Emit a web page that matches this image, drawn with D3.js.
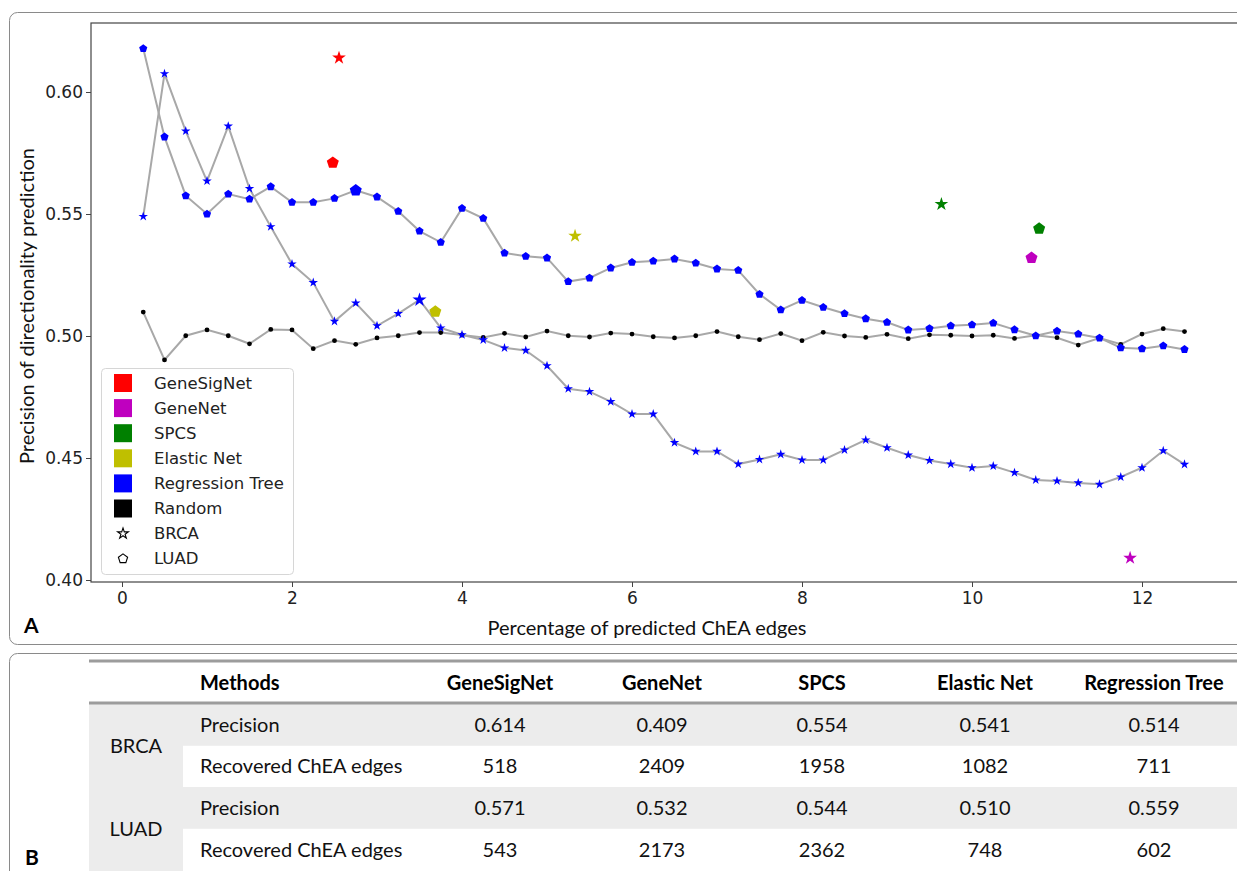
<!DOCTYPE html>
<html>
<head>
<meta charset="utf-8">
<script src="https://cdn.jsdelivr.net/npm/d3@7"></script>
<style>
  body { margin: 0; background: #fff; }
  svg { display: block; }
</style>
</head>
<body>
<div id="chart"></div>
<script>
// x positions (percentage of predicted ChEA edges)
const pct = [0.25, 0.5, 0.75, 1, 1.25, 1.5, 1.75, 2, 2.25, 2.5,
  2.75, 3, 3.25, 3.5, 3.75, 4, 4.25, 4.5, 4.75, 5,
  5.25, 5.5, 5.75, 6, 6.25, 6.5, 6.75, 7, 7.25, 7.5,
  7.75, 8, 8.25, 8.5, 8.75, 9, 9.25, 9.5, 9.75, 10,
  10.25, 10.5, 10.75, 11, 11.25, 11.5, 11.75, 12, 12.25, 12.5];

const treeBRCA = [0.549, 0.6075, 0.584, 0.5635, 0.586, 0.5604, 0.5448, 0.5295, 0.5219, 0.506,
  0.5135, 0.5042, 0.5092, 0.5148, 0.5033, 0.5005, 0.4984, 0.4951, 0.4941, 0.4878,
  0.4784, 0.4772, 0.4731, 0.468, 0.468, 0.4563, 0.4527, 0.4527, 0.4475, 0.4494,
  0.4515, 0.4492, 0.4492, 0.4533, 0.4574, 0.4542, 0.4512, 0.449, 0.4475, 0.446,
  0.4467, 0.444, 0.441, 0.4406, 0.4398, 0.4392, 0.4422, 0.446, 0.453, 0.4474];

const treeLUAD = [0.6178, 0.5816, 0.5575, 0.55, 0.5582, 0.5561, 0.5612, 0.5548, 0.5548, 0.5564,
  0.5597, 0.557, 0.5511, 0.543, 0.5384, 0.5523, 0.5482, 0.534, 0.5327, 0.532,
  0.5223, 0.5238, 0.5279, 0.5302, 0.5307, 0.5316, 0.5299, 0.5275, 0.5269, 0.5171,
  0.5107, 0.5146, 0.5118, 0.5092, 0.5071, 0.5056, 0.5025, 0.5031, 0.5042, 0.5046,
  0.5053, 0.5026, 0.5001, 0.502, 0.5008, 0.4992, 0.4952, 0.4948, 0.496, 0.4945];

const randomPrec = [0.5098, 0.4902, 0.5001, 0.5025, 0.5001, 0.4968, 0.5027, 0.5025, 0.4948, 0.4981,
  0.4966, 0.4992, 0.5001, 0.5014, 0.5014, 0.5004, 0.4994, 0.5011, 0.4996, 0.502,
  0.5001, 0.4996, 0.5012, 0.5008, 0.4997, 0.4992, 0.5001, 0.5018, 0.4997, 0.4985,
  0.501, 0.4981, 0.5015, 0.5, 0.4994, 0.5007, 0.4989, 0.5005, 0.5003, 0.5,
  0.5003, 0.499, 0.5003, 0.4993, 0.4963, 0.4992, 0.4966, 0.5008, 0.503, 0.5018];

// chosen regression tree cut-offs (BRCA, LUAD)
const treePickBRCA = 3.5;
const treePickLUAD = 2.75;

// other methods
const others = ["GeneSigNet", "GeneNet", "SPCS", "Elastic Net"];
const otherColors = ["#ff0000", "#bf00bf", "#008000", "#bfbf00"];
const brcaX = [2.553, 11.86, 9.64, 5.33];
const brcaY = [0.614, 0.409, 0.554, 0.541];
const luadX = [2.48, 10.70, 10.79, 3.686];
const luadY = [0.571, 0.532, 0.544, 0.510];

const legendLabels = ["GeneSigNet", "GeneNet", "SPCS", "Elastic Net", "Regression Tree", "Random"];
const legendColors = ["#ff0000", "#bf00bf", "#008000", "#bfbf00", "#0000ff", "#000000"];

const yTicks = [0.40, 0.45, 0.50, 0.55, 0.60];
const xTicks = [0, 2, 4, 6, 8, 10, 12];

// table
const tableHeader = ["GeneSigNet", "GeneNet", "SPCS", "Elastic Net", "Regression Tree"];
const brcaPrecision = ["0.614", "0.409", "0.554", "0.541", "0.514"];
const brcaEdges = ["518", "2409", "1958", "1082", "711"];
const luadPrecision = ["0.571", "0.532", "0.544", "0.510", "0.559"];
const luadEdges = ["543", "2173", "2362", "748", "602"];

const width = 1237, height = 871;
const svg = d3.select("#chart").append("svg")
  .attr("width", width).attr("height", height);

// panel frames
svg.append("rect").attr("x", 9.5).attr("y", 12.5).attr("width", 1260).attr("height", 632)
  .attr("rx", 8).attr("fill", "none").attr("stroke", "#8a8a8a");
svg.append("rect").attr("x", 9.5).attr("y", 653.5).attr("width", 1260).attr("height", 260)
  .attr("rx", 8).attr("fill", "none").attr("stroke", "#8a8a8a");

const x = d3.scaleLinear().domain([0, 12]).range([122, 1142]);
const y = d3.scaleLinear().domain([0.4, 0.6]).range([580, 92]);

const tickFont = "'DejaVu Sans', sans-serif";
const labFont = "Lato, 'Open Sans', sans-serif";

// plot frame
svg.append("rect").attr("x", 91).attr("y", 23).attr("width", 1200).attr("height", 559)
  .attr("fill", "none").attr("stroke", "#444").attr("stroke-width", 1.2);

const yAxis = svg.append("g").attr("transform", "translate(91,0)")
  .call(d3.axisLeft(y).tickValues(yTicks).tickFormat(d3.format(".2f")).tickSize(5));
const xAxis = svg.append("g").attr("transform", "translate(0,582)")
  .call(d3.axisBottom(x).tickValues(xTicks).tickFormat(d3.format("d")).tickSize(5));
[yAxis, xAxis].forEach(a => {
  a.select(".domain").remove();
  a.selectAll("line").attr("stroke", "#444");
  a.selectAll("text").attr("font-family", tickFont).attr("font-size", 17).attr("fill", "#222");
});
yAxis.selectAll("text").attr("x", -8);
xAxis.selectAll("text").attr("y", 10);

// axis titles
svg.append("text")
  .attr("transform", "rotate(-90)")
  .attr("x", -306).attr("y", 34)
  .attr("text-anchor", "middle")
  .attr("font-family", labFont).attr("font-size", 20).attr("fill", "#111")
  .text("Precision of directionality prediction");
svg.append("text")
  .attr("x", 647).attr("y", 635)
  .attr("text-anchor", "middle")
  .attr("font-family", labFont).attr("font-size", 20).attr("fill", "#111")
  .text("Percentage of predicted ChEA edges");
svg.append("text").attr("x", 24).attr("y", 633)
  .attr("font-family", labFont).attr("font-weight", "bold").attr("font-size", 21)
  .text("A");

// pentagon symbol (point up)
const pentagon = {
  draw(ctx, size) {
    const r = Math.sqrt(size / 2.378);
    for (let i = 0; i < 5; i++) {
      const a = -Math.PI / 2 + i * 2 * Math.PI / 5;
      const px = r * Math.cos(a), py = r * Math.sin(a);
      if (i === 0) ctx.moveTo(px, py); else ctx.lineTo(px, py);
    }
    ctx.closePath();
  }
};
const starSym = d3.symbol().type(d3.symbolStar);
const pentSym = d3.symbol().type(pentagon);

const line = d3.line().x(d => x(d[0])).y(d => y(d[1]));
const lineColor = "#a8a8a8";

const series = [
  { vals: randomPrec, kind: "dot" },
  { vals: treeLUAD, kind: "pent" },
  { vals: treeBRCA, kind: "star" }
];

series.forEach(s => {
  const pts = pct.map((p, i) => [p, s.vals[i]]);
  svg.append("path").datum(pts)
    .attr("fill", "none").attr("stroke", lineColor).attr("stroke-width", 2)
    .attr("d", line);
});

series.forEach(s => {
  const pts = pct.map((p, i) => [p, s.vals[i]]);
  const g = svg.append("g");
  if (s.kind === "dot") {
    g.selectAll("circle").data(pts).join("circle")
      .attr("cx", d => x(d[0])).attr("cy", d => y(d[1])).attr("r", 2.4)
      .attr("fill", "#000");
  } else {
    const big = s.kind === "star" ? treePickBRCA : treePickLUAD;
    g.selectAll("path").data(pts).join("path")
      .attr("transform", d => `translate(${x(d[0])},${y(d[1])})`)
      .attr("d", d => s.kind === "star"
        ? starSym.size(d[0] === big ? 62 : 28)()
        : pentSym.size(d[0] === big ? 95 : 44)())
      .attr("fill", "#0000ff");
  }
});

// other methods' single points
others.forEach((m, i) => {
  svg.append("path")
    .attr("transform", `translate(${x(brcaX[i])},${y(brcaY[i])})`)
    .attr("d", starSym.size(58)())
    .attr("fill", otherColors[i]);
  svg.append("path")
    .attr("transform", `translate(${x(luadX[i])},${y(luadY[i])})`)
    .attr("d", pentSym.size(95)())
    .attr("fill", otherColors[i]);
});

// legend
const lg = svg.append("g");
lg.append("rect").attr("x", 101.5).attr("y", 368.5).attr("width", 192).attr("height", 206)
  .attr("rx", 4).attr("fill", "#fff").attr("fill-opacity", 0.85)
  .attr("stroke", "#d6d6d6");
legendLabels.forEach((lab, i) => {
  const cy = 383 + i * 25.1;
  lg.append("rect").attr("x", 114).attr("y", cy - 9).attr("width", 18).attr("height", 18)
    .attr("fill", legendColors[i]);
  lg.append("text").attr("x", 154).attr("y", cy).attr("dy", "0.35em")
    .attr("font-family", tickFont).attr("font-size", 16.5).attr("fill", "#222").text(lab);
});
[["BRCA", starSym.size(36)()], ["LUAD", pentSym.size(56)()]].forEach((e, j) => {
  const cy = 383 + (6 + j) * 25.1;
  lg.append("path").attr("transform", `translate(123,${cy})`).attr("d", e[1])
    .attr("fill", "#fff").attr("stroke", "#000").attr("stroke-width", 1.1);
  lg.append("text").attr("x", 154).attr("y", cy).attr("dy", "0.35em")
    .attr("font-family", tickFont).attr("font-size", 16.5).attr("fill", "#222").text(e[0]);
});

// ---- table B ----
const tLeft = 89, tRight = 1237;
const colX = [500, 662, 822, 985, 1154];
const rowTop = [704, 745.5, 787, 829];
const rowH = 41.75;
const tb = svg.append("g");

[0, 2].forEach(r => {
  tb.append("rect").attr("x", tLeft).attr("y", rowTop[r]).attr("width", tRight - tLeft)
    .attr("height", rowH).attr("fill", "#ececec");
});
tb.append("rect").attr("x", tLeft).attr("y", rowTop[0]).attr("width", 94)
  .attr("height", rowH * 2).attr("fill", "#ececec");
tb.append("rect").attr("x", tLeft).attr("y", rowTop[2]).attr("width", 94)
  .attr("height", rowH * 2 + 2).attr("fill", "#ececec");

tb.append("line").attr("x1", tLeft).attr("x2", tRight).attr("y1", 661).attr("y2", 661)
  .attr("stroke", "#9c9c9c").attr("stroke-width", 3);
tb.append("line").attr("x1", tLeft).attr("x2", tRight).attr("y1", 703).attr("y2", 703)
  .attr("stroke", "#9c9c9c").attr("stroke-width", 3);

const tFont = labFont;
const tSize = 20;
tb.append("text").attr("x", 200).attr("y", 683).attr("dy", "0.35em")
  .attr("font-family", tFont).attr("font-weight", "bold").attr("font-size", tSize).text("Methods");
tableHeader.forEach((h, i) => {
  tb.append("text").attr("x", colX[i]).attr("y", 683).attr("dy", "0.35em")
    .attr("text-anchor", "middle")
    .attr("font-family", tFont).attr("font-weight", "bold").attr("font-size", tSize).text(h);
});

const rows = [
  ["Precision", brcaPrecision],
  ["Recovered ChEA edges", brcaEdges],
  ["Precision", luadPrecision],
  ["Recovered ChEA edges", luadEdges]
];
rows.forEach((r, ri) => {
  const cy = rowTop[ri] + rowH / 2;
  tb.append("text").attr("x", 200).attr("y", cy).attr("dy", "0.35em")
    .attr("font-family", tFont).attr("font-size", tSize).attr("fill", "#111").text(r[0]);
  r[1].forEach((v, i) => {
    tb.append("text").attr("x", colX[i]).attr("y", cy).attr("dy", "0.35em")
      .attr("text-anchor", "middle")
      .attr("font-family", tFont).attr("font-size", tSize).attr("fill", "#111").text(v);
  });
});
[["BRCA", 745.5], ["LUAD", 829]].forEach(g => {
  tb.append("text").attr("x", 136).attr("y", g[1]).attr("dy", "0.35em")
    .attr("text-anchor", "middle")
    .attr("font-family", tFont).attr("font-size", tSize).attr("fill", "#111").text(g[0]);
});
tb.append("text").attr("x", 25).attr("y", 865)
  .attr("font-family", tFont).attr("font-weight", "bold").attr("font-size", 21).text("B");
</script>
</body>
</html>
